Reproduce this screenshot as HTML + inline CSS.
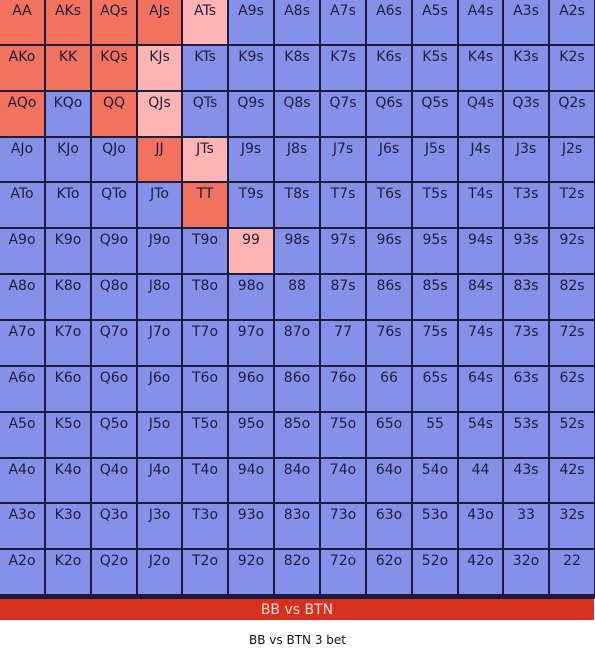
<!DOCTYPE html>
<html><head><meta charset="utf-8">
<style>
body{margin:0;width:595px;height:649px;background:#fff;overflow:hidden;font-family:"DejaVu Sans","Liberation Sans",sans-serif;}
#grid{position:absolute;left:0;top:0;width:595px;height:599px;background:#1c1c3c;}
.cell{position:absolute;box-sizing:border-box;text-align:center;font-size:14px;color:#1e1e3c;padding-top:3px;line-height:16px;}
#bar{position:absolute;left:0;top:599px;width:594px;height:21px;background:#d8301f;color:#fbe0d8;text-align:center;font-size:14px;line-height:22px;}
#cap{position:absolute;left:0;top:633px;width:595px;text-align:center;font-size:12px;color:#111;}
</style></head><body>
<div id="grid"></div>
<div id="bar">BB vs BTN</div>
<div id="cap">BB vs BTN 3 bet</div>
<script>
const ranks=["A","K","Q","J","T","9","8","7","6","5","4","3","2"];
const redHands=["AA","AKs","AQs","AJs","AKo","KK","KQs","AQo","QQ","JJ","TT"];
const pinkHands=["ATs","KJs","QJs","JTs","99"];
const colors={red:"#f27260",pink:"#ffb4b4",blue:"#8590e8"};
const g=document.getElementById('grid');
const pitch=45.85;
for(let r=0;r<13;r++){for(let c=0;c<13;c++){
  let h= r===c? ranks[r]+ranks[c] : (c>r? ranks[r]+ranks[c]+"s" : ranks[c]+ranks[r]+"o");
  const d=document.createElement('div');
  d.className='cell';
  
  
  const x0=Math.round(c*pitch), x1=Math.round((c+1)*pitch), y0=Math.round(r*pitch), y1=Math.round((r+1)*pitch);
  d.style.left=x0+'px';d.style.top=y0+'px';
  d.style.width=(x1-x0-2)+'px';d.style.height=(y1-y0-2)+'px';
  d.style.background=redHands.includes(h)?colors.red:(pinkHands.includes(h)?colors.pink:colors.blue);
  d.textContent=h;
  g.appendChild(d);
}}
</script>
</body></html>
